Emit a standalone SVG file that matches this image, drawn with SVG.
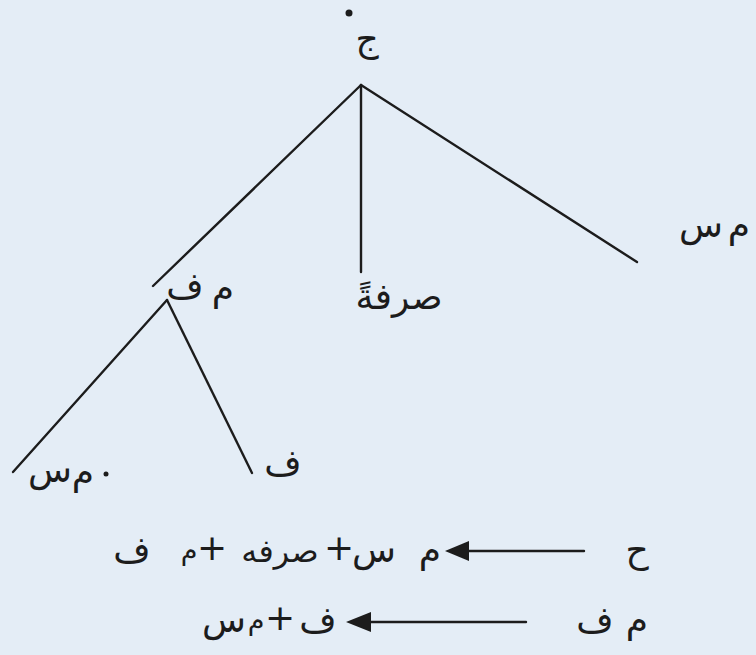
<svg xmlns="http://www.w3.org/2000/svg" width="756" height="655" viewBox="0 0 756 655">
<style>
.t{font-family:"DejaVu Sans","Noto Sans",sans-serif;font-size:36px;fill:#1c1c1c;text-anchor:middle}
.s{font-size:27px}
.m{font-size:32px}
.l{stroke:#1c1c1c;stroke-width:2.4;fill:none;stroke-linecap:round}
</style>
<rect width="756" height="655" fill="#e4edf6"/>
<g id="connectors">
<line class="l" x1="361" y1="85" x2="153" y2="286"/>
<line class="l" x1="361" y1="85" x2="361" y2="272"/>
<line class="l" x1="361" y1="85" x2="637" y2="262"/>
<line class="l" x1="167" y1="300" x2="13" y2="472"/>
<line class="l" x1="167" y1="300" x2="252" y2="473"/>
<line class="l" x1="584" y1="551" x2="465" y2="551"/>
<polygon points="445,551 469,541 469,561" fill="#1c1c1c"/>
<line class="l" x1="526" y1="622" x2="370" y2="622"/>
<polygon points="346,622 371,612 371,632" fill="#1c1c1c"/>
</g>
<g id="root">
<circle cx="349" cy="13" r="3.5" fill="#1c1c1c"/>
<text class="t" x="367" y="51">ج</text>
</g>
<g id="ms-right">
<text class="t" x="701" y="237">س</text>
<text class="t" x="739" y="237">م</text>
</g>
<g id="sarfa"><text class="t" x="399" y="309">صرفةً</text></g>
<g id="mf">
<text class="t" x="185" y="298">ف</text>
<text class="t" x="223" y="300">م</text>
</g>
<g id="ms-left">
<text class="t" x="50" y="482">س</text>
<text class="t" x="83" y="484">م</text>
<circle cx="106" cy="474" r="2.5" fill="#1c1c1c"/>
</g>
<g id="f"><text class="t" x="283" y="475">ف</text></g>
<g id="row1">
<text class="t" x="637" y="562">ح</text>
<text class="t" x="430" y="562">م</text>
<text class="t" x="374" y="562">س</text>
<text class="t" x="339" y="560">+</text>
<text class="t m" x="280" y="562">صرفه</text>
<text class="t" x="212" y="560">+</text>
<text class="t s" x="189" y="560">م</text>
<text class="t" x="132" y="562">ف</text>
</g>
<g id="row2">
<text class="t" x="637" y="632">م</text>
<text class="t" x="595" y="632">ف</text>
<text class="t" x="318" y="632">ف</text>
<text class="t" x="280" y="630">+</text>
<text class="t s" x="256" y="630">م</text>
<text class="t" x="224" y="632">س</text>
</g>
</svg>
